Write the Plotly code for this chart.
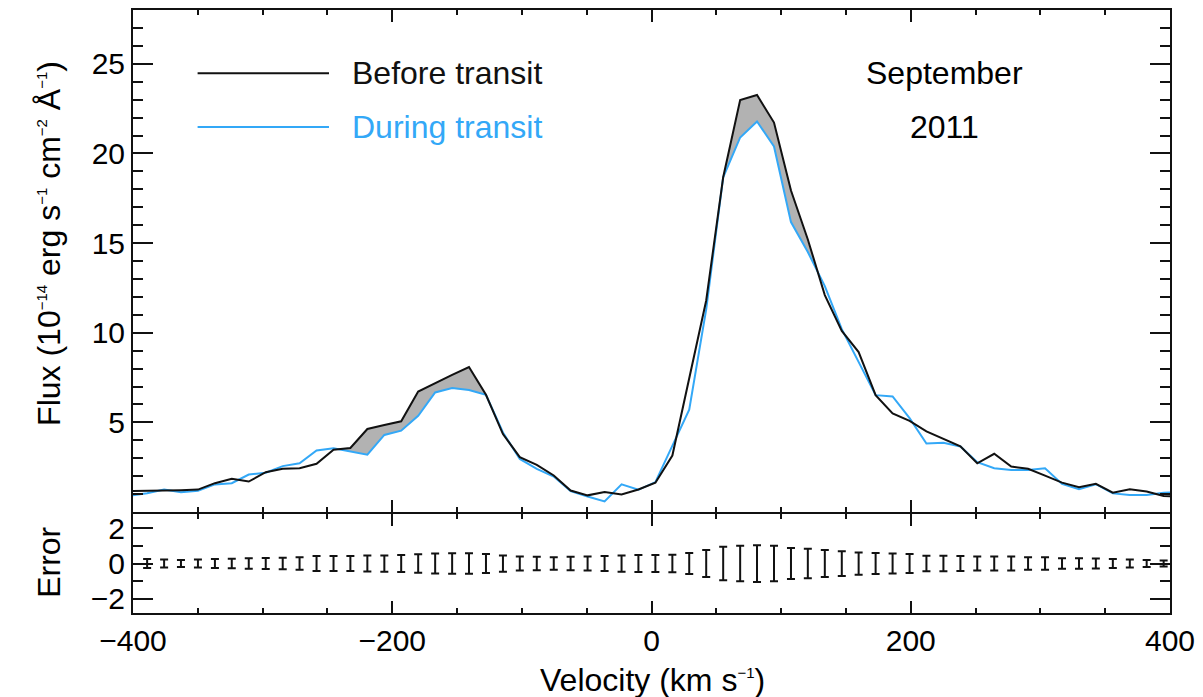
import numpy as np
import plotly.graph_objects as go

# Velocity grid (km/s) of the Lyman-alpha profile
velocity = [
    -402.2, -389.1, -376.0, -363.0, -349.9, -336.8, -323.8, -310.7, -297.6, -284.5,
    -271.5, -258.4, -245.3, -232.3, -219.2, -206.1, -193.1, -180.0, -166.9, -153.8,
    -140.8, -127.7, -114.6, -101.6, -88.5, -75.4, -62.4, -49.3, -36.2, -23.1,
    -10.1, 3.0, 16.1, 29.1, 42.2, 55.3, 68.4, 81.4, 94.5, 107.6,
    120.6, 133.7, 146.8, 159.8, 172.9, 186.0, 199.1, 212.1, 225.2, 238.3,
    251.3, 264.4, 277.5, 290.5, 303.6, 316.7, 329.8, 342.8, 355.9, 369.0,
    382.0, 395.1, 408.2,
]

# Flux in units of 1e-14 erg s-1 cm-2 A-1
flux_before = [
    1.17, 1.17, 1.20, 1.22, 1.25, 1.61, 1.85, 1.70, 2.22, 2.41,
    2.44, 2.69, 3.48, 3.57, 4.63, 4.85, 5.06, 6.72, 7.20, 7.65,
    8.09, 6.54, 4.35, 3.06, 2.63, 2.04, 1.20, 0.93, 1.11, 0.98,
    1.26, 1.63, 3.15, 7.47, 11.8, 18.67, 22.98, 23.26, 21.72, 17.93,
    15.2, 12.1, 10.1, 8.92, 6.52, 5.50, 5.08, 4.50, 4.07, 3.66,
    2.72, 3.25, 2.54, 2.41, 2.03, 1.64, 1.38, 1.57, 1.08, 1.27,
    1.14, 0.90, 0.85,
]

flux_during = [
    0.92, 1.05, 1.26, 1.10, 1.18, 1.54, 1.61, 2.09, 2.19, 2.56,
    2.72, 3.43, 3.56, 3.37, 3.20, 4.30, 4.54, 5.37, 6.67, 6.91,
    6.81, 6.54, 4.44, 2.96, 2.41, 1.98, 1.17, 0.87, 0.59, 1.54,
    1.24, 1.67, 3.67, 5.71, 11.3, 18.67, 20.89, 21.78, 20.39, 16.17,
    14.5, 12.6, 10.2, 8.35, 6.52, 6.45, 5.24, 3.82, 3.86, 3.66,
    2.78, 2.44, 2.35, 2.35, 2.44, 1.57, 1.27, 1.55, 1.04, 0.95,
    0.95, 1.08, 1.10,
]

# 1-sigma flux uncertainty for the bins inside the plotted range
error_velocity = velocity[1:-1]
flux_error = [
    0.26, 0.22, 0.20, 0.22, 0.26, 0.27, 0.30, 0.31, 0.33, 0.35,
    0.42, 0.42, 0.42, 0.45, 0.46, 0.48, 0.52, 0.56, 0.58, 0.58,
    0.54, 0.46, 0.40, 0.38, 0.36, 0.38, 0.40, 0.42, 0.46, 0.48,
    0.48, 0.50, 0.60, 0.77, 0.95, 1.00, 1.04, 1.00, 0.88, 0.84,
    0.76, 0.70, 0.63, 0.60, 0.57, 0.54, 0.44, 0.44, 0.43, 0.39,
    0.39, 0.39, 0.35, 0.35, 0.30, 0.30, 0.28, 0.26, 0.22, 0.20,
    0.17,
]

# Velocity intervals where the absorption is shaded
absorption_windows = [(-250.0, -127.0), (50.0, 135.0)]

BLACK = "#111111"
BLUE = "#33a8f7"
GRAY = "#b2b2b2"
FONT = "Liberation Sans, Arial, Helvetica, sans-serif"
TICK_FS = 30
TEXT_FS = 32

fig = go.Figure()

v = np.asarray(velocity)
fb = np.asarray(flux_before)
fd = np.asarray(flux_during)
for lo, hi in absorption_windows:
    vf = np.union1d(np.linspace(lo, hi, 600), v[(v >= lo) & (v <= hi)])
    top = np.interp(vf, v, fb)
    low = np.minimum(top, np.interp(vf, v, fd))
    fig.add_trace(go.Scatter(
        x=np.concatenate([vf, vf[::-1]]), y=np.concatenate([top, low[::-1]]),
        mode="lines", fill="toself", fillcolor=GRAY, line=dict(width=0),
        hoverinfo="skip", showlegend=False, xaxis="x", yaxis="y"))

fig.add_trace(go.Scatter(x=velocity, y=flux_during, mode="lines",
                         line=dict(color=BLUE, width=2), name="During transit",
                         showlegend=False, xaxis="x", yaxis="y"))
fig.add_trace(go.Scatter(x=velocity, y=flux_before, mode="lines",
                         line=dict(color=BLACK, width=2), name="Before transit",
                         showlegend=False, xaxis="x", yaxis="y"))

fig.add_trace(go.Scatter(
    x=error_velocity, y=[0] * len(error_velocity), mode="markers",
    marker=dict(size=1, color="rgba(0,0,0,0)"),
    error_y=dict(type="data", array=flux_error, visible=True,
                 color=BLACK, thickness=2, width=4),
    showlegend=False, xaxis="x2", yaxis="y2"))

axis_common = dict(
    showline=True, linecolor=BLACK, linewidth=2, mirror="ticks",
    ticks="inside", tickcolor=BLACK, tickwidth=2,
    showgrid=False, zeroline=False,
    tickfont=dict(family=FONT, size=TICK_FS, color="black"),
)

# Panels share one frame edge: the outward-drawn axis lines meet on one row
split = 0.1658
px = 1.0 / 605
fig.update_layout(
    width=1203, height=697,
    margin=dict(l=133, r=28, t=8, b=84),
    paper_bgcolor="white", plot_bgcolor="white",
    showlegend=False,
    xaxis=dict(axis_common, domain=[0, 1], anchor="y", range=[-400, 400],
               tickvals=[-400, -200, 0, 200, 400], showticklabels=False,
               ticklen=12,
               minor=dict(dtick=50, tick0=0, ticklen=5, tickwidth=1.5,
                          ticks="inside", tickcolor=BLACK)),
    yaxis=dict(axis_common, domain=[split + px, 1], anchor="x", range=[0, 28],
               tickvals=[5, 10, 15, 20, 25], ticklen=20,
               minor=dict(dtick=1, tick0=0, ticklen=10, tickwidth=1.5,
                          ticks="inside", tickcolor=BLACK)),
    xaxis2=dict(axis_common, domain=[0, 1], anchor="y2", range=[-400, 400],
                tickvals=[-400, -200, 0, 200, 400], ticklen=12,
                minor=dict(dtick=50, tick0=0, ticklen=5, tickwidth=1.5,
                           ticks="inside", tickcolor=BLACK)),
    yaxis2=dict(axis_common, domain=[0, split - px], anchor="x2", range=[-2.8, 2.8],
                tickvals=[-2, 0, 2], ticklen=20,
                minor=dict(dtick=1, tick0=0, ticklen=10, tickwidth=1.5,
                           ticks="inside", tickcolor=BLACK)),
)

# Legend drawn inside the flux panel
legend_rows = [("Before transit", BLACK, 0.874), ("During transit", BLUE, 0.767)]
for label, color, yy in legend_rows:
    fig.add_shape(type="line", xref="x domain", yref="y domain",
                  x0=0.0623, x1=0.189, y0=yy, y1=yy,
                  line=dict(color=color, width=2))
    fig.add_annotation(text=label, xref="x domain", yref="y domain",
                       x=0.209, y=yy, xanchor="left", yanchor="middle",
                       showarrow=False,
                       font=dict(family=FONT, size=TEXT_FS, color=color))

fig.add_annotation(text="September", xref="x domain", yref="y domain",
                   x=0.783, y=0.874, xanchor="center", yanchor="middle",
                   showarrow=False, font=dict(family=FONT, size=TEXT_FS, color="black"))
fig.add_annotation(text="2011", xref="x domain", yref="y domain",
                   x=0.783, y=0.767, xanchor="center", yanchor="middle",
                   showarrow=False, font=dict(family=FONT, size=TEXT_FS, color="black"))


def small_sup(s):
    return "<sup><span style='font-size:15px'>" + s + "</span></sup>"


# Axis titles
fig.add_annotation(
    text="Flux (10" + small_sup("−14") + " erg s" + small_sup("−1") + " cm"
         + small_sup("−2") + " Å" + small_sup("−1") + ")",
    xref="paper", yref="paper", x=-0.0805, y=0.613, textangle=-90,
    xanchor="center", yanchor="middle", showarrow=False,
    font=dict(family=FONT, size=TEXT_FS, color="black"))
fig.add_annotation(
    text="Error", xref="paper", yref="paper", x=-0.0805, y=0.084, textangle=-90,
    xanchor="center", yanchor="middle", showarrow=False,
    font=dict(family=FONT, size=TEXT_FS, color="black"))
fig.add_annotation(
    text="Velocity (km s" + small_sup("−1") + ")", xref="paper", yref="paper",
    x=0.5005, y=-0.1107, xanchor="center", yanchor="middle", showarrow=False,
    font=dict(family=FONT, size=TEXT_FS, color="black"))

fig.write_html("out.html")
